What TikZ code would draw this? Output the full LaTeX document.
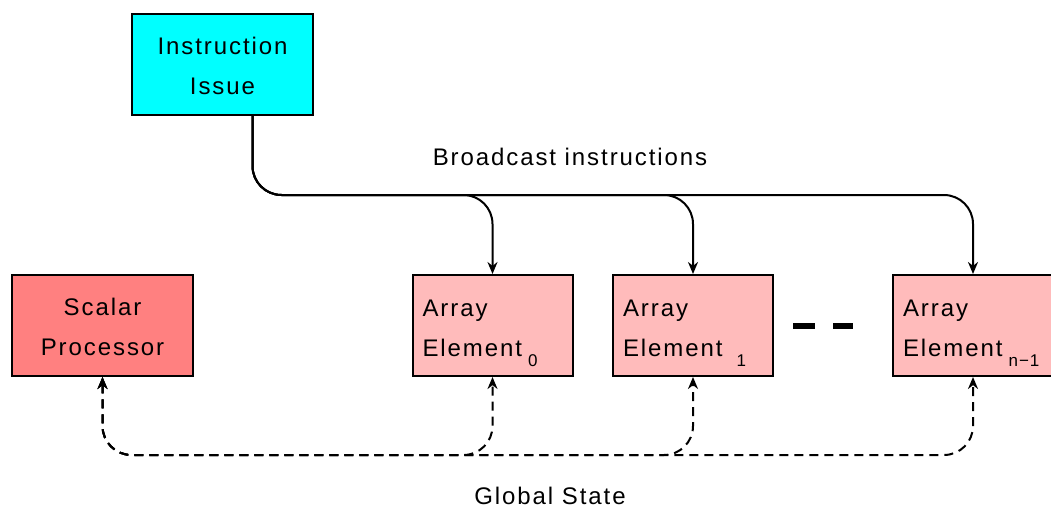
\documentclass[tikz,border=0pt]{standalone}
\usepackage{fontspec}
\setmainfont{Liberation Sans}[LetterSpace=8]
\usetikzlibrary{arrows.meta}

\definecolor{issuecyan}{RGB}{0,255,255}
\definecolor{scalarred}{RGB}{255,128,128}
\definecolor{arraypink}{RGB}{255,187,187}

% lowered small index after "Element"
\newcommand{\elemidx}[1]{\raisebox{-10pt}[0pt][0pt]{\fontsize{17}{17}\selectfont #1}}

\begin{document}
\begin{tikzpicture}[x=1pt,y=-1pt,
  >={Stealth[length=12pt,width=10pt]},
  box/.style={draw=black, line width=2pt, minimum height=101pt, inner sep=0pt,
              font=\fontsize{24}{40}\selectfont},
  cbox/.style={box, minimum width=181pt, align=center},
  abox/.style={box, fill=arraypink, text width=140pt, inner xsep=10pt, align=left},
  caption/.style={font=\fontsize{24}{28}\selectfont, inner sep=0pt},
  bcast/.style={line width=2pt, rounded corners=29pt, ->},
  gstate/.style={line width=2pt, dash pattern=on 9pt off 6pt, rounded corners=29pt, <->},
  elided/.style={line width=6pt, dash pattern=on 22pt off 18pt}
]
\useasboundingbox (0,0) rectangle (1051,508);
\clip (0,0) rectangle (1051,508);

% processing units
\node[cbox, fill=issuecyan] (issue) at (222.5,64.5) {\rule{0pt}{21pt}Instruction\\Issue};
\node[cbox, fill=scalarred] (scalar) at (102.5,325.5) {\rule{0pt}{20pt}Scalar\\Processor};
\node[abox] (ae0) at (492.5,325.5) {\rule{0pt}{22pt}Array\\Element\hspace{6pt}\elemidx{0}};
\node[abox] (ae1) at (693,325.5) {\rule{0pt}{22pt}Array\\Element\hspace{14pt}\elemidx{1}};
\node[abox] (aen) at (973,325.5) {\rule{0pt}{22pt}Array\\Element\hspace{6pt}\elemidx{n\kern1pt\char"2212\kern1pt 1}};

% bus levels
\coordinate (ibus) at (0,195);
\coordinate (gbus) at (0,455);
\coordinate (src) at ([xshift=30pt]issue.south);

% instruction broadcast
\draw[bcast] (src) |- (ae0.north |- ibus) -- (ae0.north);
\draw[bcast] (src) |- (ae1.north |- ibus) -- (ae1.north);
\draw[bcast] (src) |- (aen.north |- ibus) -- (aen.north);

% global state exchange
\draw[gstate] (scalar.south) |- (ae0.south |- gbus) -- (ae0.south);
\draw[gstate] (scalar.south) |- (ae1.south |- gbus) -- (ae1.south);
\draw[gstate] (scalar.south) |- (aen.south |- gbus) -- (aen.south);

% elided array elements
\draw[elided] ([xshift=19pt]ae1.east) -- ([xshift=-39pt]aen.west);

% captions
\node[caption] (bcastlbl) at (570,157) {Broadcast instructions};
\node[caption] (gstatelbl) at (550,496) {Global State};
\end{tikzpicture}
\end{document}
